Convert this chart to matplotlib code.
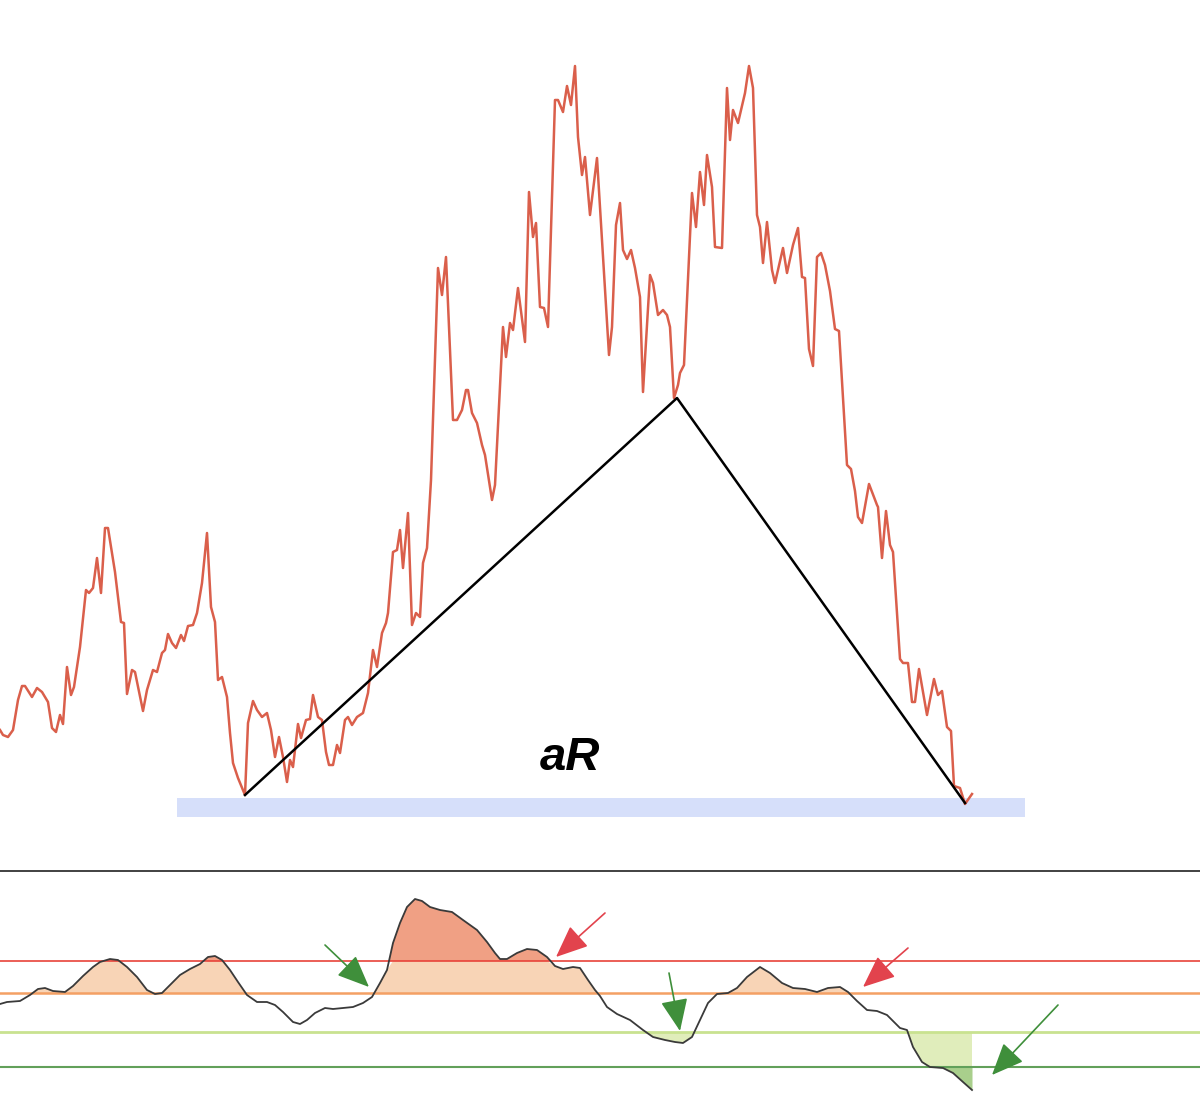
import numpy as np
import matplotlib
matplotlib.use("Agg")
import matplotlib.pyplot as plt

# price path (time index, price)
price_t = [0, 3, 8, 13, 18, 22, 25, 32, 37, 42, 48, 52, 56, 60, 63, 67, 71, 74, 80, 86,
           89, 93, 97, 101, 105, 108, 115, 121, 124, 127, 132, 135, 143, 147, 153, 157, 162, 165, 168, 172,
           176, 181, 184, 188, 193, 197, 202, 207, 211, 215, 218, 222, 227, 230, 233, 238, 245, 248, 253, 257,
           262, 267, 271, 275, 279, 283, 287, 290, 293, 298, 301, 306, 310, 313, 318, 322, 326, 329, 333, 337,
           340, 345, 348, 352, 357, 363, 368, 373, 377, 382, 386, 388, 393, 397, 400, 403, 408, 412, 416, 420,
           423, 427, 431, 438, 442, 446, 453, 457, 462, 466, 468, 472, 477, 482, 485, 492, 495, 503, 506, 510,
           513, 518, 525, 529, 533, 536, 540, 544, 548, 555, 558, 563, 567, 571, 575, 578, 582, 585, 590, 597,
           609, 612, 616, 620, 623, 627, 631, 635, 640, 643, 650, 653, 658, 663, 667, 670, 674, 678, 680, 684,
           692, 696, 700, 704, 707, 712, 715, 722, 727, 730, 733, 738, 745, 749, 753, 757, 760, 763, 767, 772,
           775, 783, 787, 793, 798, 802, 805, 809, 813, 817, 821, 825, 830, 835, 839, 847, 851, 855, 858, 862,
           869, 877, 878, 882, 886, 890, 893, 900, 903, 908, 912, 915, 919, 927, 934, 938, 942, 947, 951, 954,
           960, 965, 972]
price = [140, 135, 133, 140, 170, 184, 184, 173, 182, 178, 168, 142, 138, 155, 146, 203, 175, 183, 223, 280,
         277, 282, 312, 277, 342, 342, 298, 248, 247, 176, 200, 198, 159, 180, 200, 198, 217, 220, 236, 227,
         222, 235, 229, 244, 245, 257, 287, 337, 263, 248, 190, 193, 173, 137, 107, 92, 75, 147, 169, 160,
         153, 157, 140, 113, 133, 113, 88, 110, 103, 146, 132, 150, 151, 175, 153, 150, 118, 105, 105, 125,
         117, 150, 153, 145, 153, 157, 177, 220, 203, 237, 247, 257, 318, 320, 340, 302, 357, 245, 257, 253,
         307, 322, 390, 602, 575, 613, 450, 450, 460, 480, 480, 457, 447, 425, 415, 370, 385, 543, 513, 547,
         540, 582, 528, 678, 633, 647, 563, 562, 543, 770, 770, 758, 784, 765, 804, 733, 695, 713, 655, 712,
         515, 543, 645, 667, 620, 611, 620, 602, 573, 478, 595, 587, 555, 560, 555, 543, 472, 485, 497, 505,
         677, 643, 698, 665, 715, 683, 623, 622, 782, 730, 760, 747, 777, 804, 782, 655, 643, 607, 648, 600,
         587, 622, 597, 625, 642, 593, 592, 521, 504, 613, 617, 605, 579, 541, 539, 405, 401, 379, 353, 347,
         386, 365, 363, 312, 359, 325, 318, 211, 207, 207, 168, 168, 201, 155, 191, 175, 179, 143, 139, 84,
         82, 66, 76]

# swing points of the aR pattern
swing_t = [245, 677, 965]
swing_p = [75, 472, 67]
zone_t = [177, 1025]
zone_p = [53, 72]

# oscillator
osc_t = [0, 7, 20, 30, 38, 45, 53, 65, 73, 83, 93, 100, 110, 118, 127, 137, 147, 155, 162, 170,
         180, 190, 200, 208, 215, 222, 230, 238, 247, 257, 267, 275, 283, 293, 300, 307, 315, 325, 333, 343,
         353, 363, 372, 380, 387, 393, 400, 407, 415, 422, 430, 440, 452, 463, 477, 487, 495, 500, 507, 517,
         527, 537, 547, 555, 563, 573, 580, 588, 595, 600, 607, 617, 630, 643, 653, 665, 675, 683, 692, 700,
         708, 717, 728, 737, 747, 760, 770, 782, 793, 805, 817, 828, 840, 848, 857, 867, 877, 887, 895, 900,
         907, 913, 922, 930, 943, 953, 963, 972]
osc = [98, 100, 101, 107, 113, 114, 111, 110, 116, 126, 135, 140, 143, 142, 135, 125, 112, 108, 109, 117,
       127, 133, 138, 145, 146, 142, 132, 120, 107, 100, 100, 97, 90, 80, 78, 82, 89, 94, 93, 94,
       95, 99, 105, 119, 132, 159, 179, 195, 203, 201, 195, 192, 190, 182, 172, 160, 149, 143, 143, 149,
       153, 152, 145, 136, 133, 135, 134, 122, 112, 106, 95, 88, 82, 72, 65, 62, 60, 59, 65, 82,
       99, 108, 109, 114, 125, 135, 129, 119, 114, 113, 110, 114, 115, 110, 101, 92, 91, 87, 79, 74,
       72, 55, 40, 35, 34, 29, 20, 12]
level_red = 141
level_orange = 109
level_lgreen = 70
level_green = 35

# signal arrows: (tail_t, tail_osc, tip_t, tip_osc, colour)
arrows = [
    (325, 157, 369, 115, "#3f8f3b"),
    (605, 189, 556, 145, "#e2434d"),
    (669, 129, 680, 71, "#3f8f3b"),
    (908, 154, 863, 115, "#e2434d"),
    (1058, 97, 992, 27, "#3f8f3b"),
]

W, H = 1200, 1102
top_h = 870
fig = plt.figure(figsize=(W / 100, H / 100), dpi=100)
fig.patch.set_facecolor("white")

ax = fig.add_axes([0, (H - top_h) / H, 1, top_h / H])
ax.set_xlim(0, W)
ax.set_ylim(0, top_h)
ax.axis("off")

ax.fill_between(zone_t, zone_p[0], zone_p[1], color="#d6dffa", lw=0, zorder=1)
ax.plot(price_t, price, color="#da5f4b", lw=1.8, zorder=3)
ax.plot(swing_t, swing_p, color="black", lw=1.8, zorder=4)
ax.text(570, 112, "aR", fontsize=34, fontweight="bold", style="italic",
        family=["Liberation Sans", "DejaVu Sans"], ha="center", va="center", zorder=5)

# lower panel
bot_h = H - top_h - 1
ax2 = fig.add_axes([0, 0, 1, bot_h / H])
ax2.set_xlim(0, W)
ax2.set_ylim(0, bot_h)
for s in ["left", "right", "bottom"]:
    ax2.spines[s].set_visible(False)
ax2.spines["top"].set_color("#333333")
ax2.spines["top"].set_linewidth(1.3)
ax2.set_xticks([])
ax2.set_yticks([])

t = np.array(osc_t, dtype=float)
o = np.array(osc, dtype=float)

# overbought fills
ax2.fill_between(t, level_orange, np.minimum(o, level_red), where=o > level_orange,
                 interpolate=True, color="#f8d4b6", lw=0, zorder=1)
ax2.fill_between(t, level_red, o, where=o > level_red,
                 interpolate=True, color="#f0a084", lw=0, zorder=1)
# oversold fills
ax2.fill_between(t, level_lgreen, np.maximum(o, level_green), where=o < level_lgreen,
                 interpolate=True, color="#e0edbb", lw=0, zorder=1)
ax2.fill_between(t, level_green, o, where=o < level_green,
                 interpolate=True, color="#a9cf8c", lw=0, zorder=1)

ax2.axhline(level_red, color="#e8433a", lw=1.2, zorder=2)
ax2.axhline(level_orange, color="#f4a064", lw=1.8, zorder=2)
ax2.axhline(level_lgreen, color="#c9e290", lw=2.0, zorder=2)
ax2.axhline(level_green, color="#62a05a", lw=1.5, zorder=2)

ax2.plot(t, o, color="#3a3a3a", lw=1.3, zorder=3)

for x0, y0, x1, y1, c in arrows:
    ax2.annotate("", xy=(x1, y1), xytext=(x0, y0),
                 arrowprops=dict(arrowstyle="-|>,head_length=2.0,head_width=0.85",
                                 color=c, lw=1.2, shrinkA=0, shrinkB=0),
                 zorder=4)

fig.savefig("out.png", dpi=100, facecolor="white")
